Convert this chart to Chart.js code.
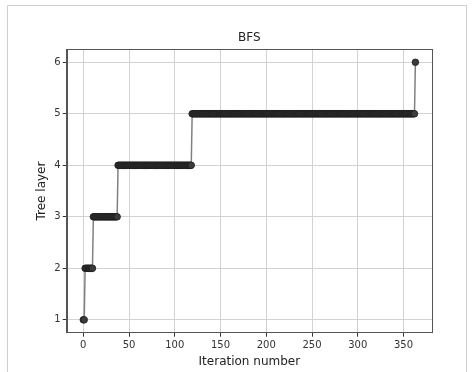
<!DOCTYPE html>
<html>
<head>
<meta charset="utf-8">
<script src="https://cdn.jsdelivr.net/npm/chart.js@4"></script>
<style>
  html, body { margin: 0; padding: 0; background: #fff; }
  #wrap { position: relative; width: 472px; height: 372px; }
</style>
</head>
<body>
<div id="wrap"><canvas id="bfsChart" width="472" height="372"></canvas></div>
<script>
// tree layer reached at each iteration, stored as runs
let layerValues    = [1, 2, 3, 4, 5, 6];
let firstIteration = [0, 2, 11, 38, 119, 363];
let lastIteration  = [1, 10, 37, 118, 362, 363];

let xTickValues = [0, 50, 100, 150, 200, 250, 300, 350];
let yTickValues = [1, 2, 3, 4, 5, 6];

let chart;

function buildPoints(){
	let points = [];
	layerValues.forEach((layer, index) => {
		for (let it = firstIteration[index]; it <= lastIteration[index]; it++) {
			points.push({x: it, y: layer});
		}
	});
	return points;
}

// matplotlib style frame round the axes plus the light screenshot border
const framePlugin = {
	id: 'frame',
	beforeDraw(c){
		let ctx = c.ctx;
		ctx.save();
		ctx.strokeStyle = '#cfcfcf';
		ctx.lineWidth = 1;
		ctx.beginPath();
		ctx.moveTo(7.5, 372);
		ctx.lineTo(7.5, 5.5);
		ctx.lineTo(466.5, 5.5);
		ctx.lineTo(466.5, 372);
		ctx.stroke();
		ctx.restore();
	},
	afterDatasetsDraw(c){
		let a = c.chartArea;
		let ctx = c.ctx;
		ctx.save();
		ctx.strokeStyle = '#555';
		ctx.lineWidth = 1;
		ctx.strokeRect(Math.round(a.left) + 0.5, Math.round(a.top) + 0.5,
			Math.round(a.right - a.left), Math.round(a.bottom - a.top));
		ctx.restore();
	}
};

function configureChart(){
	let ctx = document.getElementById('bfsChart').getContext('2d');
	chart = new Chart(ctx, {
		type: 'scatter',
		data: {
			datasets: [{
				data: buildPoints(),
				showLine: true,
				borderColor: '#808080',
				borderWidth: 1.5,
				pointRadius: 3.3,
				pointBorderWidth: 0.8,
				pointBackgroundColor: '#3c3c3c',
				pointBorderColor: '#1c1c1c'
			}]
		},
		options: {
			responsive: false,
			animation: false,
			layout: { padding: { left: 0, right: 40, top: 0, bottom: 0 } },
			plugins: {
				legend: { display: false },
				tooltip: { enabled: false },
				title: {
					display: true,
					text: 'BFS',
					fullSize: false,
					color: '#222',
					font: { family: 'DejaVu Sans', size: 12, weight: 'normal' },
					padding: { top: 31, bottom: 4 }
				}
			},
			scales: {
				x: {
					type: 'linear',
					min: -18.15,
					max: 381.15,
					afterBuildTicks: s => { s.ticks = xTickValues.map(v => ({value: v})); },
					afterFit: s => { s.height = 39.3; },
					ticks: {
						color: '#333',
						padding: 3,
						font: { family: 'DejaVu Sans', size: 10 }
					},
					grid: { color: '#d3d3d3', tickColor: '#333', tickLength: 4 },
					border: { color: '#555' },
					title: {
						display: true,
						text: 'Iteration number',
						color: '#222',
						font: { family: 'DejaVu Sans', size: 12 },
						padding: { top: 0, bottom: 3 }
					}
				},
				y: {
					type: 'linear',
					min: 0.75,
					max: 6.25,
					afterBuildTicks: s => { s.ticks = yTickValues.map(v => ({value: v})); },
					afterFit: s => { s.width = 66.7; },
					ticks: {
						color: '#333',
						padding: 2,
						font: { family: 'DejaVu Sans', size: 10 }
					},
					grid: { color: '#d3d3d3', tickColor: '#333', tickLength: 4 },
					border: { color: '#555' },
					title: {
						display: true,
						text: 'Tree layer',
						color: '#222',
						font: { family: 'DejaVu Sans', size: 12 },
						padding: { top: 34.8, bottom: 0 }
					}
				}
			}
		},
		plugins: [framePlugin]
	});
}

configureChart();
</script>
</body>
</html>
